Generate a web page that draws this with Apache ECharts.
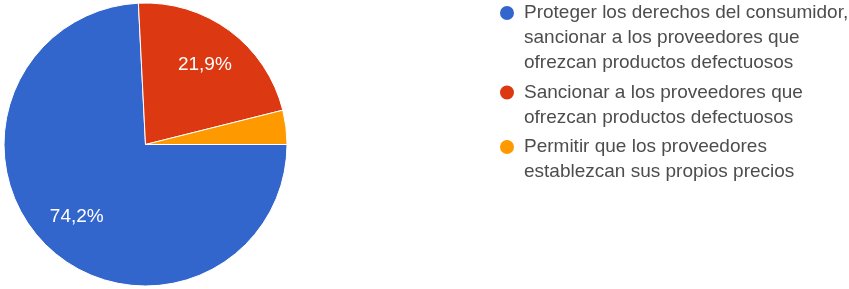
<!DOCTYPE html>
<html>
<head>
<meta charset="utf-8">
<script src="https://cdn.jsdelivr.net/npm/echarts@6/dist/echarts.min.js"></script>
<style>
  html, body { margin: 0; padding: 0; background: #fff; }
  #chart { width: 849px; height: 289px; }
</style>
</head>
<body>
<div id="chart"></div>
<script>
// answers and their share of responses (%)
const categories = [
  "Proteger los derechos del consumidor, sancionar a los proveedores que ofrezcan productos defectuosos",
  "Sancionar a los proveedores que ofrezcan productos defectuosos",
  "Permitir que los proveedores establezcan sus propios precios"
];
const legendLines = [
  ["Proteger los derechos del consumidor,", "sancionar a los proveedores que", "ofrezcan productos defectuosos"],
  ["Sancionar a los proveedores que", "ofrezcan productos defectuosos"],
  ["Permitir que los proveedores", "establezcan sus propios precios"]
];
const shares = [74.2, 21.9, 3.9];
const colors = ["#3366cc", "#dc3912", "#ff9900"];

const LINE_H = 25;
const FONT = "Arial, 'Liberation Sans', sans-serif";

const chart = echarts.init(document.getElementById("chart"));
const pieData = categories.map((name, i) => ({ name, value: shares[i], itemStyle: { color: colors[i] } }));

chart.setOption({
  animation: false,
  legend: {
    orient: "vertical", left: 498, top: -49.5, padding: 0,
    itemWidth: 16, itemHeight: 16, itemGap: -20.5, icon: "circle",
    selectedMode: false,
    textStyle: { color: "#4d4d4d", fontSize: 19, lineHeight: LINE_H, fontFamily: FONT, padding: [0, 0, 0, 4] },
    data: categories,
    // blank lines on top keep the first text line level with the dot
    formatter: (name) => {
      const lines = legendLines[categories.indexOf(name)];
      return "\n".repeat(lines.length - 1) + lines.join("\n");
    }
  },
  series: [
    {
      type: "pie", center: [145.5, 144.5], radius: [0, 141.5],
      startAngle: 0, clockwise: true, silent: true,
      itemStyle: { borderColor: "#fff", borderWidth: 1 },
      label: { show: false }, labelLine: { show: false },
      data: pieData
    },
    {
      // label-only ring so the percentages sit at ~0.68 of the radius
      type: "pie", center: [145.5, 144.5], radius: [52, 141.5],
      startAngle: 0, clockwise: true, silent: true, minShowLabelAngle: 20,
      itemStyle: { color: "rgba(0,0,0,0)" },
      label: {
        show: true, position: "inside", color: "#fff", fontSize: 19, fontFamily: FONT,
        formatter: (p) => p.value.toFixed(1).replace(".", ",") + "%"
      },
      labelLine: { show: false },
      data: categories.map((name, i) => ({ name, value: shares[i] }))
    }
  ]
});
</script>
</body>
</html>
